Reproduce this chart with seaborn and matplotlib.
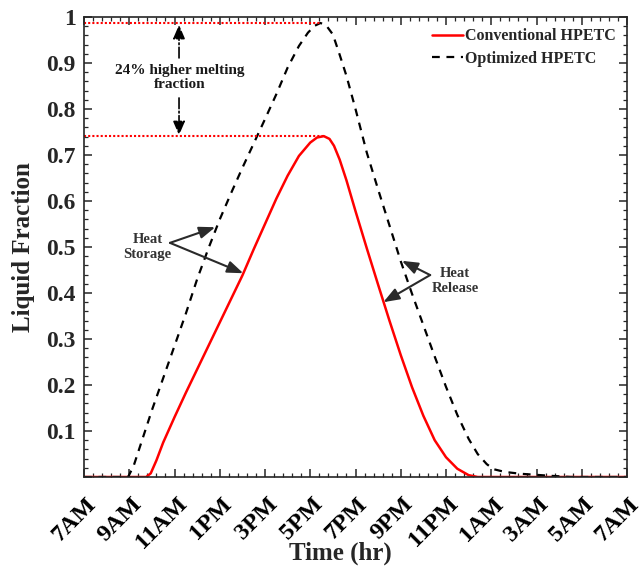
import numpy as np
import pandas as pd
import seaborn as sns
import matplotlib
matplotlib.use("Agg")
import matplotlib.pyplot as plt
from matplotlib.ticker import MultipleLocator, FuncFormatter
import matplotlib.transforms as mtransforms

# ---------------- data (hours after 7AM) ----------------
conv_t = [0, 2.75, 2.95, 3.2, 3.5, 4.0, 4.5, 5.0, 5.5, 6.0, 6.5, 7.0, 7.5, 8.0, 8.5,
          9.0, 9.5, 10.0, 10.3, 10.6, 10.85, 11.05, 11.3, 11.6, 12.0, 12.5, 13.0, 13.5,
          14.0, 14.5, 15.0, 15.5, 16.0, 16.5, 17.0, 17.4, 24]
conv_v = [0, 0, 0.008, 0.036, 0.075, 0.13, 0.183, 0.234, 0.285, 0.336, 0.387, 0.438, 0.495, 0.55, 0.605,
          0.655, 0.698, 0.727, 0.738, 0.741, 0.735, 0.72, 0.69, 0.645, 0.578, 0.497, 0.418, 0.34,
          0.265, 0.195, 0.133, 0.08, 0.043, 0.018, 0.004, 0, 0]

opt_t = [0, 1.95, 2.2, 2.5, 3.0, 3.5, 4.0, 4.5, 5.0, 5.5, 6.0, 6.5, 7.0, 7.5, 8.0, 8.5,
         9.0, 9.5, 9.9, 10.2, 10.45, 10.7, 11.0, 11.3, 11.6, 12.0, 12.5, 13.0, 13.5, 14.0,
         14.5, 15.0, 15.5, 16.0, 16.5, 17.0, 17.4, 17.8, 18.1, 18.6, 19.3, 20.5, 21.5, 24]
opt_v = [0, 0, 0.025, 0.07, 0.145, 0.215, 0.285, 0.355, 0.43, 0.497, 0.56, 0.617, 0.672, 0.725, 0.778, 0.832,
         0.89, 0.937, 0.966, 0.981, 0.987, 0.982, 0.962, 0.918, 0.872, 0.80, 0.705, 0.625, 0.547, 0.469,
         0.398, 0.33, 0.262, 0.196, 0.135, 0.083, 0.05, 0.028, 0.017, 0.011, 0.007, 0.003, 0, 0]

xtick_pos = list(range(0, 25, 2))
xtick_labels = ['7AM', '9AM', '11AM', '1PM', '3PM', '5PM', '7PM', '9PM', '11PM',
                '1AM', '3AM', '5AM', '7AM']
series_names = ['Conventional HPETC', 'Optimized HPETC']

df = pd.concat([
    pd.DataFrame({'t': conv_t, 'v': conv_v, 'series': series_names[0]}),
    pd.DataFrame({'t': opt_t, 'v': opt_v, 'series': series_names[1]}),
], ignore_index=True)

# ---------------- style ----------------
sns.set_theme(style='ticks')
plt.rcParams['font.family'] = ['Liberation Serif', 'DejaVu Serif']
plt.rcParams['font.weight'] = 'bold'
plt.rcParams['axes.labelweight'] = 'bold'

fig = plt.figure(figsize=(6.42, 5.69), dpi=100)
ax = fig.add_axes([84 / 642, 1 - 477 / 569, (627 - 84) / 642, (477 - 17) / 569])

sns.lineplot(data=df[df.series == series_names[0]], x='t', y='v', ax=ax,
             color='#ff0000', lw=1.8, label=series_names[0], estimator=None, sort=False)
sns.lineplot(data=df[df.series == series_names[1]], x='t', y='v', ax=ax,
             color='black', lw=1.6, label=series_names[1], estimator=None, sort=False)
ax.lines[1].set_linestyle((0, (3.5, 3.0)))

# horizontal dotted marks at peaks
cmax = max(conv_v); omax = max(opt_v)
ax.hlines([cmax], 0, conv_t[conv_v.index(cmax)], colors='#ff0000', linestyles=(0, (1, 1)), lw=1.5)
ax.hlines([omax], 0, opt_t[opt_v.index(omax)], colors='#ff0000', linestyles=(0, (1, 1)), lw=1.5)

ax.set_xlim(0, 24)
ax.set_ylim(0, 1)
ax.set_xticks(xtick_pos)
ax.set_xticklabels(xtick_labels)
ax.xaxis.set_minor_locator(MultipleLocator(0.4))
ax.yaxis.set_major_locator(MultipleLocator(0.1))
ax.yaxis.set_minor_locator(MultipleLocator(0.02))
ax.yaxis.set_major_formatter(FuncFormatter(lambda v, p: '' if abs(v) < 1e-9 else '%g' % round(v, 2)))

ax.tick_params(which='both', direction='in', top=True, right=True, colors='#262626')
ax.tick_params(which='major', length=6, width=1.1)
ax.tick_params(which='minor', length=3, width=0.9)
ax.tick_params(axis='y', labelsize=17, pad=6, labelcolor='#262626')
ax.tick_params(axis='x', labelsize=17.5, pad=17, labelcolor='black')
for sp in ax.spines.values():
    sp.set_visible(True)
    sp.set_color('#262626')
    sp.set_linewidth(1.2)

for lab in ax.get_xticklabels():
    lab.set_rotation(45)
    lab.set_ha('right')
    lab.set_va('center')
    lab.set_rotation_mode('anchor')
    lab.set_fontweight('bold')
    lab.set_transform(lab.get_transform() + mtransforms.ScaledTranslation(9 / 100, 0, fig.dpi_scale_trans))
for lab in ax.get_yticklabels():
    lab.set_fontweight('bold')

ax.set_xlabel('Time (hr)', fontsize=18, fontweight='bold')
ax.xaxis.set_label_coords((340 - 84) / 543, (477 - 542) / 460)
ax.set_ylabel('Liquid Fraction', fontsize=18, fontweight='bold', labelpad=8)

leg = ax.legend(loc='upper right', frameon=False, handlelength=2.0,
                handletextpad=0.1, borderaxespad=0.3, labelspacing=0.4,
                prop={'weight': 'bold', 'size': 11.5})

# annotations
acol = '#2a2a2a'
ax.text(4.25, 0.868, '24% higher melting\nfraction', ha='center', va='center',
        fontsize=11, fontweight='bold', color='#1a1a1a', linespacing=1.15)
ax.annotate('', xy=(4.2, 0.983), xytext=(4.2, 0.911),
            arrowprops=dict(arrowstyle='-|>,head_length=0.7,head_width=0.3', color='black',
                            lw=1.2, linestyle='-.', shrinkA=0, shrinkB=0))
ax.annotate('', xy=(4.2, 0.743), xytext=(4.2, 0.824),
            arrowprops=dict(arrowstyle='-|>,head_length=0.7,head_width=0.3', color='black',
                            lw=1.2, linestyle='-.', shrinkA=0, shrinkB=0))

ax.text(2.8, 0.5, 'Heat\nStorage', ha='center', va='center', fontsize=10.5,
        fontweight='bold', color='#333333', linespacing=1.15)
for tip in [(5.8, 0.543), (7.04, 0.443)]:
    ax.annotate('', xy=tip, xytext=(3.8, 0.509),
                arrowprops=dict(arrowstyle='-|>,head_length=0.8,head_width=0.3', color=acol,
                                lw=1.5, shrinkA=0, shrinkB=0))

ax.text(16.4, 0.426, 'Heat\nRelease', ha='center', va='center', fontsize=10.5,
        fontweight='bold', color='#333333', linespacing=1.15)
for tip in [(14.05, 0.47), (13.23, 0.38)]:
    ax.annotate('', xy=tip, xytext=(15.3, 0.439),
                arrowprops=dict(arrowstyle='-|>,head_length=0.8,head_width=0.3', color=acol,
                                lw=1.5, shrinkA=0, shrinkB=0))

fig.savefig('out.png', dpi=100)
